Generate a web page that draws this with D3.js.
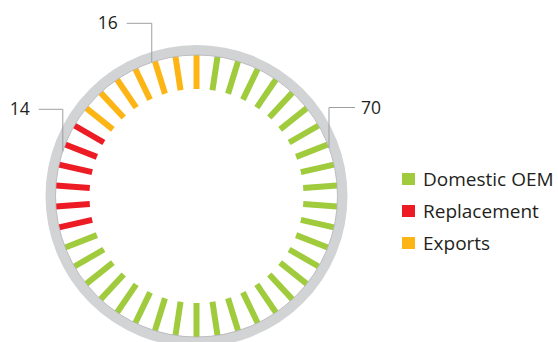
<!DOCTYPE html>
<html>
<head>
<meta charset="utf-8">
<script src="https://cdn.jsdelivr.net/npm/d3@7"></script>
<style>
  body { margin: 0; background: #fff; }
  svg { display: block; }
  text { font-family: "Open Sans", sans-serif; fill: #231f20; }
</style>
</head>
<body>
<div id="chart"></div>
<script>
// data
const categories = ["Domestic OEM", "Replacement", "Exports"];
const values = [70, 14, 16];
const colours = ["#9fcb3c", "#ed1c24", "#fdb515"];
const tickCount = 42;

const width = 558;
const height = 342;

// ring geometry
const cx = 196.5, cy = 196;
const ringOuter = 151, ringInner = 141;
const tickInner = 107;

// where each value label's leader line leaves the ring (degrees, clockwise from top)
const labelLayout = [
    { angle: 70, y: 107.5, x: 355, anchor: "start" },
    { angle: -71.5, y: 109.3, x: 38.7, anchor: "end" },
    { angle: -18.5, y: 23.3, x: 126.7, anchor: "end" },
];

const svg = d3.select("#chart").append("svg")
    .attr("width", width)
    .attr("height", height);

const g = svg.append("g").attr("transform", `translate(${cx},${cy})`);

// SCALES
const angle = d3.scaleLinear().domain([0, tickCount]).range([0, 2 * Math.PI]);
const total = d3.sum(values);
const cumulative = d3.cumsum(values).map(v => v / total);
const catOf = d3.scaleThreshold()
    .domain(cumulative.slice(0, -1))
    .range(d3.range(categories.length));

// ticks, index 1..42 going clockwise, the last one sits at 12 o'clock
const ticks = d3.range(1, tickCount + 1).map(i => ({
    i: i,
    a: angle(i),
    cat: catOf((i - 0.5) / tickCount),
}));

g.selectAll("line.tick")
    .data(ticks)
    .join("line")
    .attr("class", "tick")
    .attr("x1", d => Math.sin(d.a) * tickInner)
    .attr("y1", d => -Math.cos(d.a) * tickInner)
    .attr("x2", d => Math.sin(d.a) * ringInner)
    .attr("y2", d => -Math.cos(d.a) * ringInner)
    .attr("stroke", d => colours[d.cat])
    .attr("stroke-width", 6);

// gray ring
g.append("circle")
    .attr("r", (ringOuter + ringInner) / 2)
    .attr("fill", "none")
    .attr("stroke", "#d1d3d4")
    .attr("stroke-width", ringOuter - ringInner);
g.append("circle")
    .attr("r", ringInner)
    .attr("fill", "none")
    .attr("stroke", "#b1b3b5")
    .attr("stroke-width", 0.8);

// value labels with leader lines
values.forEach((v, k) => {
    const l = labelLayout[k];
    const a = l.angle * Math.PI / 180;
    const px = cx + Math.sin(a) * ringInner;
    const py = cy - Math.cos(a) * ringInner;
    svg.append("path")
        .attr("d", `M${px},${py}V${l.y}H${l.x}`)
        .attr("fill", "none")
        .attr("stroke", "#9d9fa2")
        .attr("stroke-width", 1);
    svg.append("text")
        .attr("x", l.anchor === "start" ? l.x + 6 : l.x - 9)
        .attr("y", l.y + 6)
        .attr("text-anchor", l.anchor)
        .style("font-size", "17.5px")
        .text(v);
});

// legend
const legend = svg.append("g").attr("transform", "translate(402,173)");
const rows = legend.selectAll("g")
    .data(categories)
    .join("g")
    .attr("transform", (d, i) => `translate(0,${i * 32})`);
rows.append("rect")
    .attr("width", 13)
    .attr("height", 12)
    .attr("fill", (d, i) => colours[i]);
rows.append("text")
    .attr("x", 21)
    .attr("y", 13)
    .style("font-size", "19px")
    .text(d => d);
</script>
</body>
</html>
